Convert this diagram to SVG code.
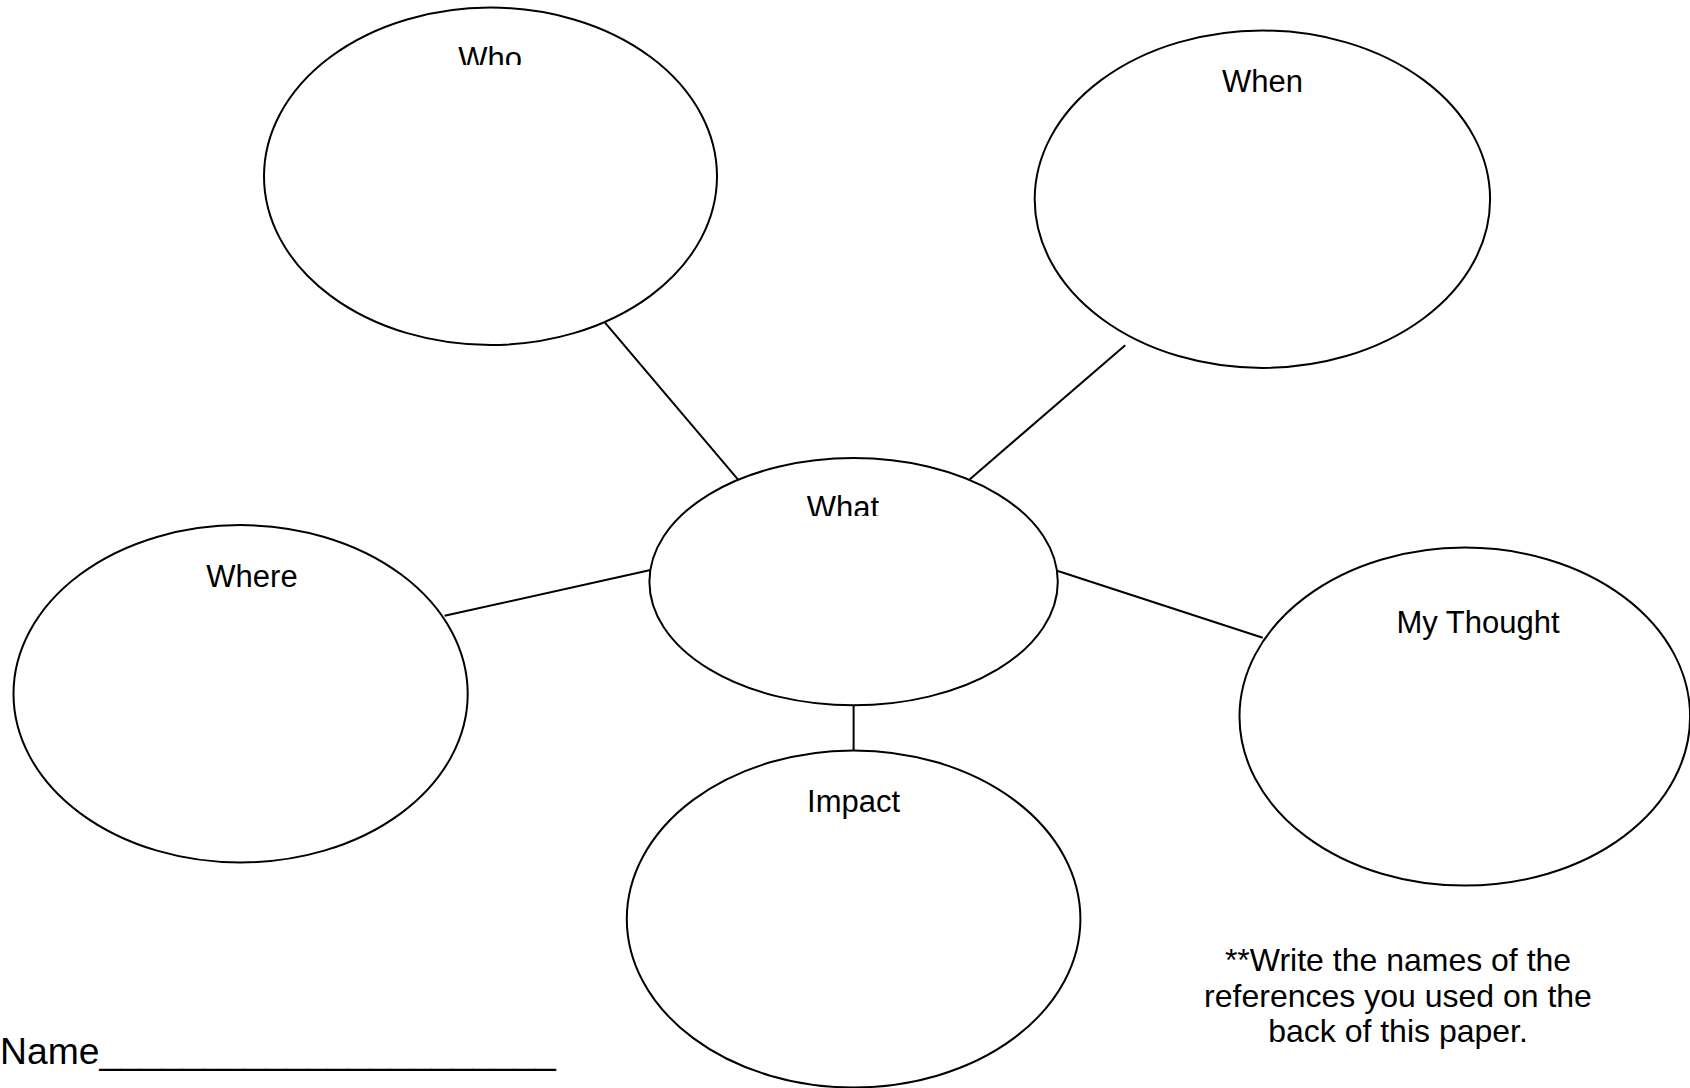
<svg xmlns="http://www.w3.org/2000/svg" width="1690" height="1088" viewBox="0 0 1690 1088">
<style>
.node ellipse{fill:none;stroke:#000;stroke-width:2}
.lbl{font-family:"Liberation Sans",Arial,sans-serif;font-size:31px;fill:#000;text-anchor:middle}
.conn line{stroke:#000;stroke-width:2}
.note{font-family:"Liberation Sans",Arial,sans-serif;font-size:32px;fill:#000;text-anchor:middle}
</style>
<defs>
<clipPath id="clipWho"><rect x="400" y="0" width="200" height="65"/></clipPath>
<clipPath id="clipWhat"><rect x="750" y="450" width="200" height="66"/></clipPath>
</defs>
<rect width="1690" height="1088" fill="#fff"/>
<g class="conn" id="connectors">
<line x1="605" y1="322.7" x2="738.3" y2="479.9"/>
<line x1="1125.2" y1="345.2" x2="969" y2="479.9"/>
<line x1="444.6" y1="615.8" x2="650.5" y2="570"/>
<line x1="1057.9" y1="571" x2="1262.7" y2="637.7"/>
<line x1="853.6" y1="705.3" x2="853.6" y2="750.5"/>
</g>
<g class="node" id="who">
<ellipse cx="490.5" cy="176.3" rx="226.5" ry="168.7"/>
<text class="lbl" x="490" y="69" clip-path="url(#clipWho)">Who</text>
</g>
<g class="node" id="when">
<ellipse cx="1262.4" cy="199.2" rx="227.7" ry="168.7"/>
<text class="lbl" x="1262.5" y="92">When</text>
</g>
<g class="node" id="what">
<ellipse cx="853.6" cy="581.7" rx="204.2" ry="123.6"/>
<text class="lbl" x="843" y="518.2" clip-path="url(#clipWhat)">What</text>
</g>
<g class="node" id="where">
<ellipse cx="240.6" cy="693.8" rx="227.1" ry="168.7"/>
<text class="lbl" x="252" y="587.4">Where</text>
</g>
<g class="node" id="impact">
<ellipse cx="853.6" cy="919" rx="226.8" ry="168.5"/>
<text class="lbl" x="853.6" y="811.5">Impact</text>
</g>
<g class="node" id="mythought">
<ellipse cx="1464.8" cy="716.6" rx="225.3" ry="169"/>
<text class="lbl" x="1478" y="632.5">My Thought</text>
</g>
<g id="note">
<text class="note" x="1398" y="971">**Write the names of the</text>
<text class="note" x="1398" y="1007">references you used on the</text>
<text class="note" x="1398" y="1042">back of this paper.</text>
</g>
<g id="name">
<text x="0" y="1064" style="font-family:'Liberation Sans',Arial,sans-serif;font-size:37.3px;fill:#000">Name______________________</text>
</g>
</svg>
